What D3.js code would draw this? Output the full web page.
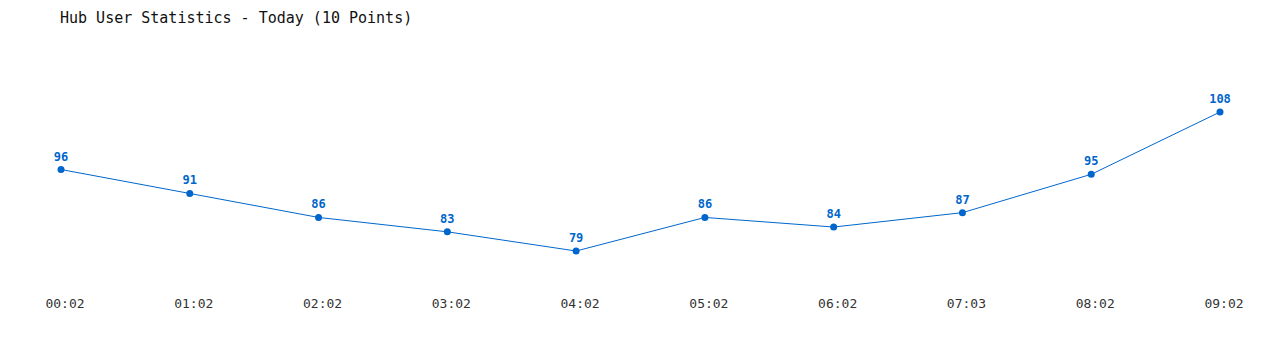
<!DOCTYPE html>
<html>
<head>
<meta charset="utf-8">
<script src="https://cdn.jsdelivr.net/npm/d3@7"></script>
<style>
  body { margin: 0; background: #fff; }
  text { font-family: "DejaVu Sans Mono", "Liberation Mono", monospace; }
</style>
</head>
<body>
<div id="chart"></div>
<script>
const times = ["00:02", "01:02", "02:02", "03:02", "04:02", "05:02", "06:02", "07:03", "08:02", "09:02"];
const users = [96, 91, 86, 83, 79, 86, 84, 87, 95, 108];

const width = 1280, height = 350;
const color = "#0066cc";

const svg = d3.select("#chart").append("svg")
    .attr("width", width)
    .attr("height", height);

// title
svg.append("text")
    .attr("x", 60)
    .attr("y", 23)
    .attr("font-size", 15)
    .attr("fill", "#111")
    .text("Hub User Statistics - Today (10 Points)");

const x = d3.scalePoint()
    .domain(times)
    .range([61, 1220]);

const y = d3.scaleLinear()
    .domain([79, 108])
    .range([251, 112]);

// time labels
svg.selectAll(".tick-label")
    .data(times)
    .enter()
    .append("text")
    .attr("class", "tick-label")
    .attr("x", d => x(d) + 4)
    .attr("y", 308)
    .attr("text-anchor", "middle")
    .attr("font-size", 13)
    .attr("fill", "#333")
    .text(d => d);

const pts = times.map((t, i) => ({ t: t, v: users[i] }));

const line = d3.line()
    .x(d => x(d.t))
    .y(d => y(d.v));

svg.append("path")
    .datum(pts)
    .attr("d", line)
    .attr("fill", "none")
    .attr("stroke", color)
    .attr("stroke-width", 1);

svg.selectAll("circle")
    .data(pts)
    .enter()
    .append("circle")
    .attr("cx", d => x(d.t))
    .attr("cy", d => y(d.v))
    .attr("r", 3.5)
    .attr("fill", color);

// value labels
svg.selectAll(".val")
    .data(pts)
    .enter()
    .append("text")
    .attr("class", "val")
    .attr("x", d => x(d.t))
    .attr("y", d => y(d.v) - 9)
    .attr("text-anchor", "middle")
    .attr("font-size", 12)
    .attr("font-weight", "bold")
    .attr("fill", color)
    .text(d => d.v);
</script>
</body>
</html>
